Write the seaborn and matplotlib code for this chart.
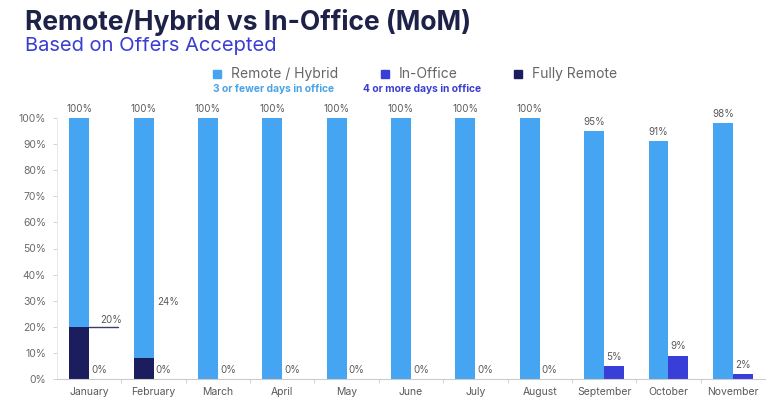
import matplotlib
matplotlib.use("Agg")
import matplotlib.pyplot as plt
import seaborn as sns
import pandas as pd
import numpy as np

months = ["January", "February", "March", "April", "May", "June", "July",
          "August", "September", "October", "November"]
remote_hybrid = [100, 100, 100, 100, 100, 100, 100, 100, 95, 91, 98]
in_office = [0, 0, 0, 0, 0, 0, 0, 0, 5, 9, 2]
fully_remote = [20, 8, 0, 0, 0, 0, 0, 0, 0, 0, 0]
fully_remote_labels = {"January": "20%", "February": "24%"}
y_ticks = [0, 10, 20, 30, 40, 50, 60, 70, 80, 90, 100]

C_REMOTE = "#46A5F2"
C_OFFICE = "#3A3ED8"
C_FULLY = "#1C1D5F"
C_TITLE = "#1E2148"
C_TEXT = "#5a5a5a"

sns.set_theme(style="white")
plt.rcParams["font.family"] = ["Inter", "DejaVu Sans"]

df = pd.DataFrame({
    "Month": months * 2,
    "Type": ["Remote / Hybrid"] * len(months) + ["In-Office"] * len(months),
    "Value": remote_hybrid + in_office,
})
df_fr = pd.DataFrame({
    "Month": months * 2,
    "Type": ["Fully Remote"] * len(months) + ["_blank"] * len(months),
    "Value": fully_remote + [0] * len(months),
})

fig = plt.figure(figsize=(7.8, 4.05), dpi=100)
ax = fig.add_axes([57 / 780, 1 - 379 / 405, 708 / 780, 261 / 405])

sns.barplot(data=df, x="Month", y="Value", hue="Type", order=months,
            hue_order=["Remote / Hybrid", "In-Office"],
            palette=[C_REMOTE, C_OFFICE], width=0.62, dodge=True,
            ax=ax, legend=False, linewidth=0, saturation=1)
sns.barplot(data=df_fr, x="Month", y="Value", hue="Type", order=months,
            hue_order=["Fully Remote", "_blank"],
            palette=[C_FULLY, C_FULLY], width=0.62, dodge=True,
            ax=ax, legend=False, linewidth=0, saturation=1)

ax.set_xlim(-0.5, len(months) - 0.5)
ax.set_ylim(0, 100)
ax.set_xlabel("")
ax.set_ylabel("")
ax.set_yticks(y_ticks)
ax.set_yticklabels([f"{t}%" for t in y_ticks], color="#6a6a6a", fontsize=7.5)
ax.set_xticks(range(len(months)))
ax.set_xticklabels(months, color=C_TEXT, fontsize=7.5)
ax.tick_params(axis="x", length=0, pad=6)
ax.tick_params(axis="y", length=3, width=0.6, color="#cccccc", pad=5, left=True)
ax.set_xticks(np.arange(0.5, len(months) - 0.5, 1), minor=True)
ax.tick_params(axis="x", which="minor", length=3, width=0.6, color="#cccccc", bottom=True)

for s in ["top", "right"]:
    ax.spines[s].set_visible(False)
ax.spines["left"].set_color("#e6e6e6")
ax.spines["left"].set_linewidth(0.6)
ax.spines["bottom"].set_color("#cccccc")
ax.spines["bottom"].set_linewidth(0.8)

off = 0.155
for i, m in enumerate(months):
    ax.annotate(f"{remote_hybrid[i]}%", (i - off, remote_hybrid[i]),
                xytext=(0, 6.5), textcoords="offset points", ha="center",
                va="center", fontsize=7, color=C_TEXT)
    ax.annotate(f"{in_office[i]}%", (i + off, in_office[i]),
                xytext=(0, 6.5), textcoords="offset points", ha="center",
                va="center", fontsize=7, color=C_TEXT)

# Fully remote annotations
ax.plot([0, 0.45], [fully_remote[0], fully_remote[0]], color="#3a3d6e", lw=1.0)
ax.text(0.17, fully_remote[0] + 2.6, fully_remote_labels["January"],
        ha="left", va="center", fontsize=7, color=C_TEXT)
ax.text(1 + 0.06, 29.5, fully_remote_labels["February"],
        ha="left", va="center", fontsize=7, color=C_TEXT)

# Titles
fig.text(25 / 780, 1 - 22 / 405, "Remote/Hybrid vs In-Office (MoM)",
         fontsize=19, fontweight="bold", color=C_TITLE, va="center", ha="left")
fig.text(25 / 780, 1 - 46 / 405, "Based on Offers Accepted",
         fontsize=14.5, color="#3A3ED0", va="center", ha="left")

# Legend
leg_y = 1 - 74 / 405
items = [(217, C_REMOTE, "Remote / Hybrid"), (385, C_OFFICE, "In-Office"),
         (518, C_FULLY, "Fully Remote")]
for x, c, t in items:
    fig.patches.append(plt.Rectangle((x / 780 - 4 / 780, leg_y - 4 / 405), 8 / 780, 8 / 405,
                                     transform=fig.transFigure, color=c, figure=fig))
    fig.text(x / 780 + 14 / 780, leg_y, t, fontsize=10, color="#666666",
             va="center", ha="left")
fig.text(274 / 780, 1 - 89 / 405, "3 or fewer days in office", fontsize=7.4,
         fontweight="bold", color="#4AA2E6", va="center", ha="center")
fig.text(422 / 780, 1 - 89 / 405, "4 or more days in office", fontsize=7.4,
         fontweight="bold", color="#3A3ED0", va="center", ha="center")

fig.savefig("out.png", dpi=100, facecolor="white")
